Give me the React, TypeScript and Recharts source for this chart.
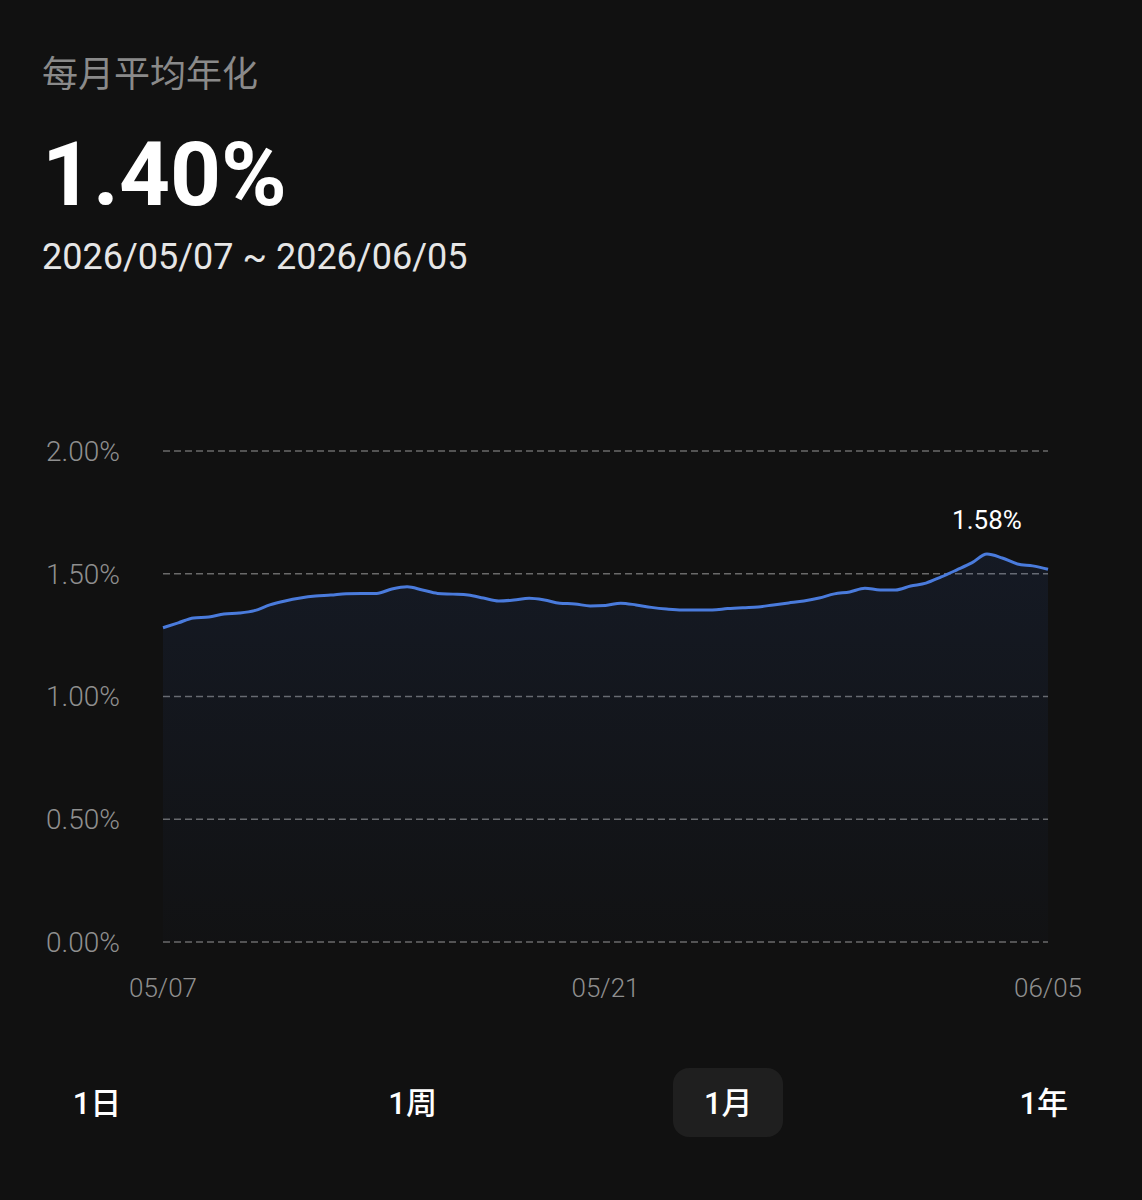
import { AreaChart, Area, XAxis, YAxis, CartesianGrid, ReferenceDot } from "recharts";

// half-day samples, 05/07 -> 06/05
const rates = [
  1.28, 1.3, 1.32, 1.324, 1.336, 1.34, 1.35, 1.373, 1.389, 1.401,
  1.409, 1.413, 1.419, 1.42, 1.42, 1.438, 1.447, 1.434, 1.42, 1.417,
  1.413, 1.401, 1.389, 1.393, 1.4, 1.393, 1.38, 1.377, 1.369, 1.371,
  1.38, 1.373, 1.363, 1.356, 1.352, 1.352, 1.352, 1.358, 1.362, 1.365,
  1.373, 1.381, 1.389, 1.401, 1.418, 1.426, 1.441, 1.434, 1.434, 1.45,
  1.462, 1.487, 1.515, 1.544, 1.58, 1.564, 1.54, 1.532, 1.518,
];
const xTicks = [0, 29, 58];
const xTickLabels = ["05/07", "05/21", "06/05"];
const yTicks = [0, 0.5, 1, 1.5, 2];
const ranges = ["1日", "1周", "1月", "1年"];
const selectedRange = "1月";

const data = rates.map((v, i) => ({ i, v }));
const peakIdx = rates.indexOf(Math.max(...rates));

const font = "Roboto, 'Noto Sans CJK SC', 'Noto Sans', sans-serif";

export default function App() {
  return (
    <div
      style={{
        position: "absolute",
        left: 0,
        top: 0,
        width: 1142,
        height: 1200,
        background: "#111111",
        fontFamily: font,
        overflow: "hidden",
      }}
    >
      <div style={{ position: "absolute", left: 42, top: 45, fontSize: 36, color: "#8a8a8a" }}>
        每月平均年化
      </div>
      <div
        style={{
          position: "absolute",
          left: 42,
          top: 122,
          fontSize: 89,
          fontWeight: 700,
          color: "#ffffff",
        }}
      >
        1.40%
      </div>
      <div style={{ position: "absolute", left: 42, top: 236, fontSize: 36, color: "#e6e6e6" }}>
        2026/05/07 ~ 2026/06/05
      </div>

      <div style={{ position: "absolute", left: 0, top: 0 }}>
        <AreaChart
          width={1142}
          height={1020}
          data={data}
          margin={{ top: 451, right: 94, bottom: 38, left: 0 }}
        >
          <defs>
            <linearGradient id="rateFill" x1="0" y1="0" x2="0" y2="1">
              <stop offset="0%" stopColor="#3a6fe0" stopOpacity={0.15} />
              <stop offset="100%" stopColor="#3a6fe0" stopOpacity={0.02} />
            </linearGradient>
          </defs>
          <CartesianGrid
            vertical={false}
            stroke="#6a6a6a"
            strokeDasharray="7 4"
            strokeWidth={1.5}
          />
          <XAxis
            dataKey="i"
            type="number"
            domain={[0, 58]}
            ticks={xTicks}
            tickFormatter={(v) => xTickLabels[xTicks.indexOf(v)]}
            axisLine={false}
            tickLine={false}
            tickSize={0}
            tickMargin={37}
            height={40}
            interval={0}
            tick={{ fill: "#8f8f8f", fontSize: 26, fontFamily: font, fontWeight: 300 }}
          />
          <YAxis
            domain={[0, 2]}
            ticks={yTicks}
            tickFormatter={(v) => v.toFixed(2) + "%"}
            axisLine={false}
            tickLine={false}
            tickSize={0}
            tickMargin={43}
            width={163}
            tick={{ fill: "#8f8f8f", fontSize: 28, fontFamily: font, fontWeight: 300 }}
          />
          <Area
            type="monotone"
            dataKey="v"
            stroke="#4a7bdc"
            strokeWidth={3}
            fill="url(#rateFill)"
            dot={false}
            activeDot={false}
            isAnimationActive={false}
          />
          <ReferenceDot
            x={peakIdx}
            y={rates[peakIdx]}
            r={1}
            fill="none"
            stroke="none"
            label={{
              value: rates[peakIdx].toFixed(2) + "%",
              position: "top",
              offset: 24,
              fill: "#ffffff",
              fontSize: 26,
              fontFamily: font,
            }}
          />
        </AreaChart>
      </div>

      {ranges.map((r, k) => (
        <div
          key={r}
          style={{
            position: "absolute",
            left: 97 + k * 315.6 - 55,
            top: 1068,
            width: 110,
            height: 69,
            borderRadius: 16,
            background: r === selectedRange ? "#1f1f1f" : "transparent",
            color: "#ffffff",
            fontSize: 31,
            fontWeight: 500,
            display: "flex",
            alignItems: "center",
            justifyContent: "center",
            paddingBottom: 4,
            boxSizing: "border-box",
          }}
        >
          {r}
        </div>
      ))}
    </div>
  );
}
